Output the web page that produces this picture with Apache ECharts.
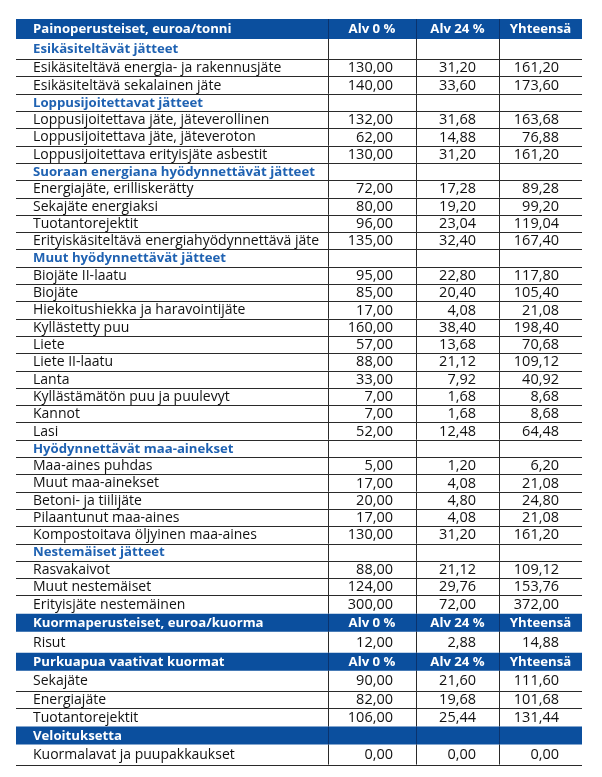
<!DOCTYPE html>
<html><head><meta charset="utf-8">
<script src="https://cdn.jsdelivr.net/npm/echarts@6/dist/echarts.min.js"></script>
<style>html,body{margin:0;padding:0;background:#fff}#c{width:602px;height:777px}</style>
</head><body><div id="c"></div>
<script>
// ---------- DATA ----------
const rowLabels = [
  'Painoperusteiset, euroa/tonni',
  'Esikäsiteltävät jätteet',
  'Esikäsiteltävä energia- ja rakennusjäte',
  'Esikäsiteltävä sekalainen jäte',
  'Loppusijoitettavat jätteet',
  'Loppusijoitettava jäte, jäteverollinen',
  'Loppusijoitettava jäte, jäteveroton',
  'Loppusijoitettava erityisjäte asbestit',
  'Suoraan energiana hyödynnettävät jätteet',
  'Energiajäte, erilliskerätty',
  'Sekajäte energiaksi',
  'Tuotantorejektit',
  'Erityiskäsiteltävä energiahyödynnettävä jäte',
  'Muut hyödynnettävät jätteet',
  'Biojäte II-laatu',
  'Biojäte',
  'Hiekoitushiekka ja haravointijäte',
  'Kyllästetty puu',
  'Liete',
  'Liete II-laatu',
  'Lanta',
  'Kyllästämätön puu ja puulevyt',
  'Kannot',
  'Lasi',
  'Hyödynnettävät maa-ainekset',
  'Maa-aines puhdas',
  'Muut maa-ainekset',
  'Betoni- ja tiilijäte',
  'Pilaantunut maa-aines',
  'Kompostoitava öljyinen maa-aines',
  'Nestemäiset jätteet',
  'Rasvakaivot',
  'Muut nestemäiset',
  'Erityisjäte nestemäinen',
  'Kuormaperusteiset, euroa/kuorma',
  'Risut',
  'Purkuapua vaativat kuormat',
  'Sekajäte',
  'Energiajäte',
  'Tuotantorejektit',
  'Veloituksetta',
  'Kuormalavat ja puupakkaukset'
];
// head = blue band with column headers, band = blue band without headers,
// sec = blue section title, item = value row
const rowKinds = [
  'head','sec','item','item','sec','item','item','item','sec','item','item','item','item',
  'sec','item','item','item','item','item','item','item','item','item','item',
  'sec','item','item','item','item','item','sec','item','item','item',
  'head','item','head','item','item','item','band','item'
];
const alv0 = [
  null,null,130.00,140.00,null,132.00,62.00,130.00,null,72.00,80.00,96.00,135.00,
  null,95.00,85.00,17.00,160.00,57.00,88.00,33.00,7.00,7.00,52.00,
  null,5.00,17.00,20.00,17.00,130.00,null,88.00,124.00,300.00,
  null,12.00,null,90.00,82.00,106.00,null,0.00
];
const alv24 = [
  null,null,31.20,33.60,null,31.68,14.88,31.20,null,17.28,19.20,23.04,32.40,
  null,22.80,20.40,4.08,38.40,13.68,21.12,7.92,1.68,1.68,12.48,
  null,1.20,4.08,4.80,4.08,31.20,null,21.12,29.76,72.00,
  null,2.88,null,21.60,19.68,25.44,null,0.00
];
const total = [
  null,null,161.20,173.60,null,163.68,76.88,161.20,null,89.28,99.20,119.04,167.40,
  null,117.80,105.40,21.08,198.40,70.68,109.12,40.92,8.68,8.68,64.48,
  null,6.20,21.08,24.80,21.08,161.20,null,109.12,153.76,372.00,
  null,14.88,null,111.60,101.68,131.44,null,0.00
];
const columnHeaders = ['Alv 0 %', 'Alv 24 %', 'Yhteensä'];

// ---------- LAYOUT ----------
const BLUE = '#0b4f9e';
const SEC = '#1f62b2';
const FONT = '"Open Sans", sans-serif';
const FS = 14;
const BFS = 13.2;
const NFS = 14.5;
const colEdges = [0, 312, 400, 483, 566];
const isBand = k => k === 'head' || k === 'band';
const heights = rowKinds.map((k, i) => {
  if (i === 0) return 20;
  if (isBand(k)) return 18;
  let h = 17.3;
  if (isBand(rowKinds[i - 1])) h += 2.8;
  if (i + 1 < rowKinds.length && isBand(rowKinds[i + 1])) h += 1;
  return h;
});
const tops = [];
let acc = 0;
heights.forEach(h => { tops.push(acc); acc += h; });
const totalH = acc;
const fmt = v => v.toFixed(2).replace('.', ',');

const rows = rowLabels.map((l, i) => [i, tops[i], tops[i] + heights[i]]);

function renderItem(params, api) {
  const i = api.value(0);
  const kind = rowKinds[i];
  const p0 = api.coord([colEdges[0], api.value(1)]);
  const p1 = api.coord([colEdges[4], api.value(2)]);
  const x0 = p0[0], y0 = p0[1], x1 = p1[0], y1 = p1[1];
  const cy = (y0 + y1) / 2 + 0.5;
  const band = isBand(kind);
  const ch = [];
  if (band) {
    ch.push({type: 'rect', shape: {x: x0, y: y0, width: x1 - x0, height: y1 - y0}, style: {fill: BLUE}});
  }
  const cx = colEdges.map(c => api.coord([c, 0])[0]);
  for (let k = 1; k < 4; k++) {
    const x = Math.round(cx[k]) + 0.5;
    ch.push({type: 'line', shape: {x1: x, y1: y0, x2: x, y2: y1},
      style: {stroke: band ? 'rgba(10,40,90,0.7)' : '#2a2a2a', lineWidth: 1}});
  }
  const next = rowKinds[i + 1];
  if (!band && (next === undefined || !isBand(next))) {
    const y = Math.round(y1) + 0.5;
    ch.push({type: 'line', shape: {x1: x0, y1: y, x2: x1, y2: y},
      style: {stroke: '#2a2a2a', lineWidth: 1.2}});
  }
  const labelColor = band ? '#ffffff' : (kind === 'sec' ? SEC : '#111111');
  const bold = band || kind === 'sec';
  ch.push({type: 'text', x: x0 + 17, y: cy, style: {
    text: rowLabels[i], fill: labelColor, font: (bold ? 'bold ' + BFS : FS) + 'px ' + FONT,
    verticalAlign: 'middle', align: 'left'}});
  if (kind === 'head') {
    for (let k = 0; k < 3; k++) {
      ch.push({type: 'text', x: (cx[k + 1] + cx[k + 2]) / 2, y: cy, style: {
        text: columnHeaders[k], fill: '#ffffff', font: 'bold ' + BFS + 'px ' + FONT,
        verticalAlign: 'middle', align: 'center'}});
    }
  }
  if (kind === 'item') {
    const vals = [alv0[i], alv24[i], total[i]];
    for (let k = 0; k < 3; k++) {
      if (vals[k] === null) continue;
      ch.push({type: 'text', x: cx[k + 2] - 23, y: cy, style: {
        text: fmt(vals[k]), fill: '#111111', font: NFS + 'px ' + FONT,
        verticalAlign: 'middle', align: 'right'}});
    }
  }
  return {type: 'group', children: ch};
}

const chart = echarts.init(document.getElementById('c'), null, {renderer: 'canvas'});
chart.setOption({
  animation: false,
  grid: {left: 16, top: 19, width: 566, height: totalH},
  xAxis: {type: 'value', min: 0, max: 566, show: false},
  yAxis: {type: 'value', min: 0, max: totalH, inverse: true, show: false},
  series: [{
    type: 'custom', renderItem: renderItem, data: rows,
    encode: {x: -1, y: [1, 2]}, clip: false
  }]
});
</script></body></html>
